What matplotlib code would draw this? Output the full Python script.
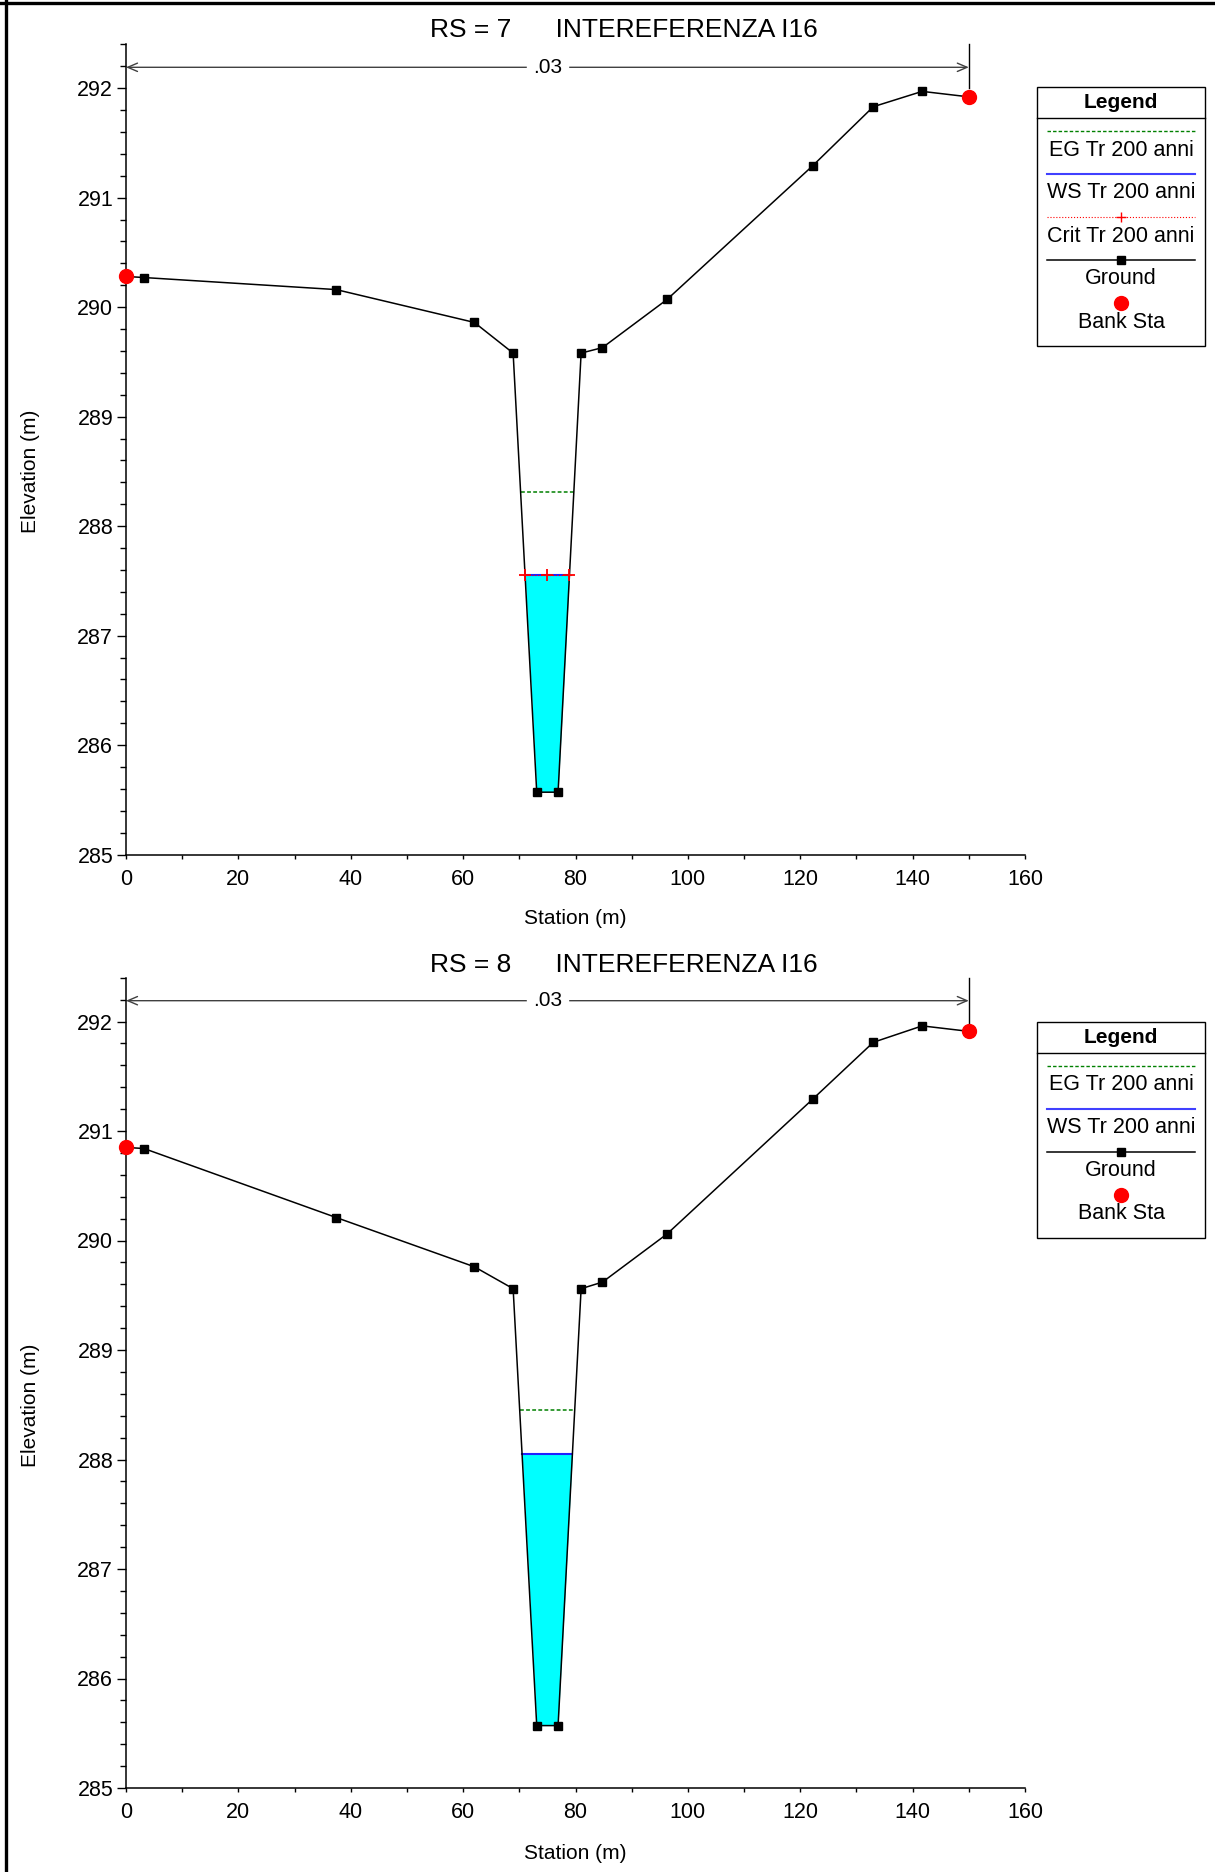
import numpy as np
import matplotlib
matplotlib.use("Agg")
import matplotlib.pyplot as plt
from matplotlib.ticker import MultipleLocator
from matplotlib.patches import Rectangle

plt.rcParams['font.family'] = ['Liberation Sans', 'DejaVu Sans']

# cross section data
station = [0.0, 3.2, 37.4, 62.0, 68.9, 73.1, 76.9, 81.0, 84.8, 96.3, 122.2, 133.0, 141.7, 150.0]
ground_rs7 = [290.28, 290.27, 290.16, 289.86, 289.58, 285.57, 285.57, 289.58, 289.63, 290.07, 291.29, 291.83, 291.97, 291.92]
ground_rs8 = [290.85, 290.84, 290.21, 289.76, 289.56, 285.57, 285.57, 289.56, 289.62, 290.06, 291.29, 291.81, 291.96, 291.91]
bank_sta = [0.0, 150.0]
eg_rs7, ws_rs7, crit_rs7 = 288.31, 287.55, 287.55
eg_rs8, ws_rs8 = 288.45, 288.05
mann_n = ".03"
mann_range = (0.0, 150.0)
titles = ["RS = 7      INTEREFERENZA I16", "RS = 8      INTEREFERENZA I16"]

W, H = 1215, 1872
fig = plt.figure(figsize=(W / 100, H / 100), dpi=100)
fig.patch.set_facecolor('white')

YTOP = 292.4


def level_extent(sta, z, level):
    sta = np.asarray(sta)
    z = np.asarray(z)
    i0 = int(np.argmin(z))
    i = i0
    while i > 0 and z[i - 1] < level:
        i -= 1
    xl = np.interp(level, [z[i], z[i - 1]], [sta[i], sta[i - 1]])
    j = i0 + 1 if z[i0 + 1] == z[i0] else i0
    while j < len(z) - 1 and z[j + 1] < level:
        j += 1
    xr = np.interp(level, [z[j], z[j + 1]], [sta[j], sta[j + 1]])
    return xl, xr


def draw_section(ax, sta, z, eg, ws, crit=None):
    sta = np.asarray(sta)
    z = np.asarray(z)
    ax.fill_between(sta, z, ws, where=z < ws, interpolate=True,
                    color='cyan', lw=0, zorder=1)
    xl, xr = level_extent(sta, z, eg)
    ax.plot([xl, xr], [eg, eg], color='#008000', lw=1.1,
            linestyle=(0, (2.5, 1.5)), zorder=2)
    xl, xr = level_extent(sta, z, ws)
    ax.plot([xl, xr], [ws, ws], color='#2020ff', lw=1.5, zorder=2)
    if crit is not None:
        cl, cr = level_extent(sta, z, crit)
        ax.plot([cl - 0.4, cr + 0.4], [crit, crit], color='red', lw=0.8,
                linestyle=':', zorder=3)
        ax.plot([cl, (cl + cr) / 2, cr], [crit] * 3, linestyle='none',
                marker='+', color='red', ms=9, mew=1.3, zorder=5)
    ax.plot(sta, z, color='black', lw=1.1, marker='s', ms=6, zorder=4)
    bz = np.interp(bank_sta, sta, z)
    ax.plot(bank_sta, bz, linestyle='none', marker='o', color='red',
            ms=10, zorder=5, clip_on=False)

    # manning's n annotation
    yn = 292.19
    ax.annotate('', xy=(mann_range[0], yn), xytext=(mann_range[1], yn),
                arrowprops=dict(arrowstyle='<->,head_length=0.7,head_width=0.3',
                                color='#404040', lw=1.0, shrinkA=0, shrinkB=0),
                annotation_clip=False)
    ax.text(sum(mann_range) / 2, yn, mann_n, ha='center', va='center',
            fontsize=15, backgroundcolor='white', zorder=6)
    ax.plot([mann_range[1], mann_range[1]], [bz[1] + 0.08, YTOP],
            color='black', lw=1.0, clip_on=False)

    ax.set_xlim(0, 160)
    ax.set_ylim(285, YTOP)
    for s in ['top', 'right']:
        ax.spines[s].set_visible(False)
    ax.spines['left'].set_linewidth(1.1)
    ax.spines['bottom'].set_linewidth(1.1)
    ax.xaxis.set_major_locator(MultipleLocator(20))
    ax.xaxis.set_minor_locator(MultipleLocator(10))
    ax.set_yticks(np.arange(285, 293))
    ax.yaxis.set_minor_locator(MultipleLocator(0.2))
    ax.tick_params(axis='x', which='both', direction='out', length=3.2,
                   width=1, labelsize=15.5, pad=7)
    ax.tick_params(axis='y', which='major', direction='out', length=6.7,
                   width=1, labelsize=15.5, pad=2.5)
    ax.tick_params(axis='y', which='minor', direction='out', length=4,
                   width=1)


# axes placement (pixel based)
px_per_m = 109.5
x0, x1 = 126, 1025
for k, y285 in enumerate([854.6, 1788.0]):
    top = y285 - (YTOP - 285) * px_per_m
    ax = fig.add_axes([x0 / W, (H - y285) / H, (x1 - x0) / W, (y285 - top) / H])
    ax.patch.set_alpha(0)
    if k == 0:
        draw_section(ax, station, ground_rs7, eg_rs7, ws_rs7, crit_rs7)
    else:
        draw_section(ax, station, ground_rs8, eg_rs8, ws_rs8)

# overlay in pixel coordinates for frame, titles, labels and legends
ov = fig.add_axes([0, 0, 1, 1], zorder=-1)
ov.set_xlim(0, W)
ov.set_ylim(H, 0)
ov.axis('off')
ov.plot([5.5, 5.5], [0, H], color='black', lw=2.4)
ov.plot([0, W], [2.5, 2.5], color='black', lw=2.4)

ov2 = fig.add_axes([0, 0, 1, 1], zorder=10)
ov2.set_xlim(0, W)
ov2.set_ylim(H, 0)
ov2.axis('off')
ov2.patch.set_alpha(0)

offsets = [0, 934.5]
for k, off in enumerate(offsets):
    ov.text(624, 37.3 + off, titles[k], ha='center', va='baseline', fontsize=19)
    ov.text(575, 919 + off, 'Station (m)', ha='center', va='center', fontsize=15)
    ov.text(30, 471 + off, 'Elevation (m)', ha='center', va='center',
            rotation=90, fontsize=15)

legend_rows = [
    [('eg', 'EG Tr 200 anni'), ('ws', 'WS Tr 200 anni'), ('crit', 'Crit Tr 200 anni'),
     ('ground', 'Ground'), ('bank', 'Bank Sta')],
    [('eg', 'EG Tr 200 anni'), ('ws', 'WS Tr 200 anni'),
     ('ground', 'Ground'), ('bank', 'Bank Sta')],
]
lx0, lx1 = 1037, 1205
sx0, sx1 = 1047, 1195
sxc = (sx0 + sx1) / 2
for k, rows in enumerate(legend_rows):
    base = 87 + offsets[k]
    bottom = base + 44 + 43 * (len(rows) - 1) + 19 + 24
    ov2.add_patch(Rectangle((lx0, base), lx1 - lx0, bottom - base,
                            facecolor='white', edgecolor='black', lw=1.0))
    ov2.plot([lx0, lx1], [base + 31, base + 31], color='black', lw=1.0)
    ov2.text(sxc, base + 16, 'Legend', ha='center', va='center',
             fontsize=15, fontweight='bold')
    for i, (kind, label) in enumerate(rows):
        ys = base + 44 + 43 * i
        if kind == 'eg':
            ov2.plot([sx0, sx1], [ys, ys], color='#008000', lw=1.0,
                     linestyle=(0, (2.5, 1.5)))
        elif kind == 'ws':
            ov2.plot([sx0, sx1], [ys, ys], color='#4040ff', lw=1.5)
        elif kind == 'crit':
            ov2.plot([sx0, sx1], [ys, ys], color='red', lw=0.8, linestyle=':')
            ov2.plot([sxc], [ys], marker='+', color='red', ms=7, mew=1.0)
        elif kind == 'ground':
            ov2.plot([sx0, sx1], [ys, ys], color='black', lw=1.1)
            ov2.plot([sxc], [ys], marker='s', color='black', ms=6)
        elif kind == 'bank':
            ov2.plot([sxc], [ys], marker='o', color='red', ms=10)
        ov2.text(sxc, ys + 19, label, ha='center', va='center', fontsize=15.5)

fig.savefig('out.png', dpi=100, facecolor='white')
